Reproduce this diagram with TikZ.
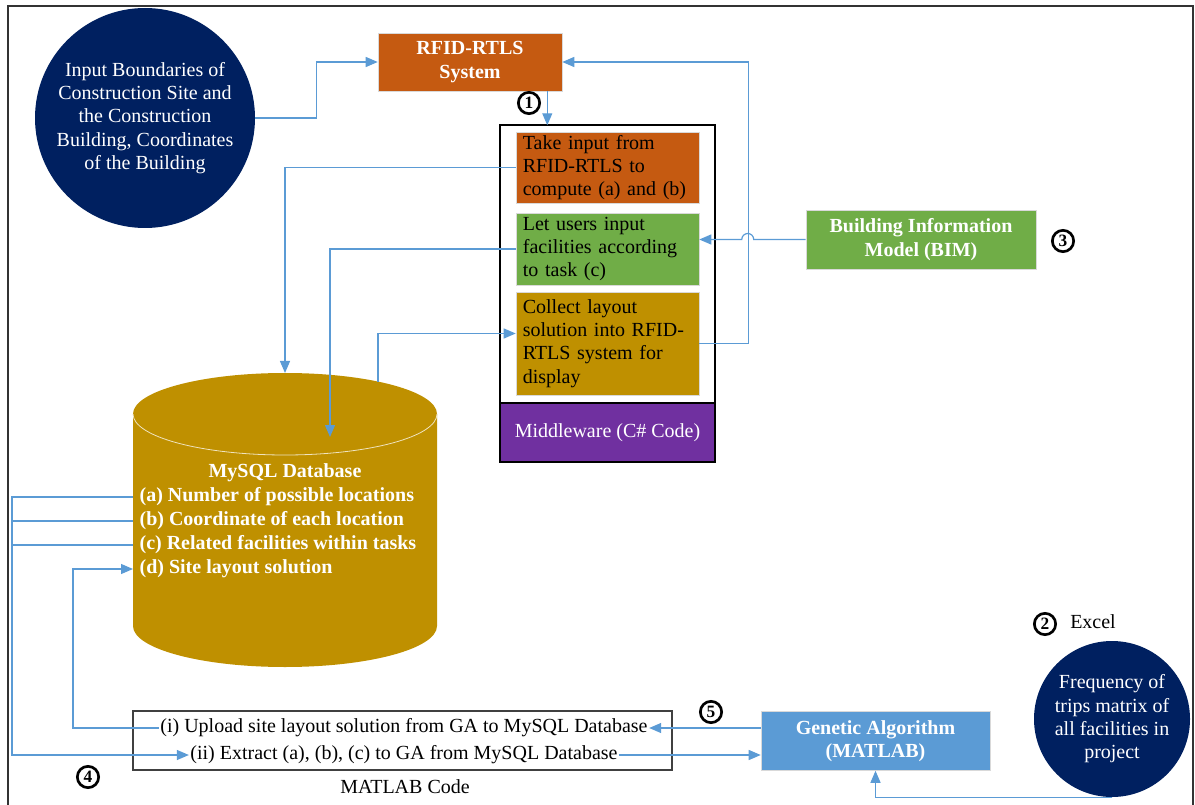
\documentclass[tikz,border=0pt]{standalone}
\usepackage{fontspec}
\setmainfont{Liberation Serif}
\usetikzlibrary{arrows.meta,calc}

\definecolor{rustBox}{HTML}{C55A11}
\definecolor{leafBox}{HTML}{70AD47}
\definecolor{goldBox}{HTML}{BF9000}
\definecolor{plumBox}{HTML}{7030A0}
\definecolor{navyDisc}{HTML}{002060}
\definecolor{skyBox}{HTML}{5B9BD5}
\definecolor{wire}{HTML}{5B9BD5}

\begin{document}
\begin{tikzpicture}[x=0.75pt,y=0.75pt,yscale=-1,xscale=1,
    every node/.style={font=\fontsize{15}{17.5}\selectfont},
    solid box/.style={rectangle, draw=white!85!black, line width=0.4pt, text=white, font=\bfseries\fontsize{15}{17.5}\selectfont, align=center, inner sep=2pt},
    task box/.style={rectangle, draw=white!85!black, line width=0.4pt, minimum width=137.25pt, text width=127pt, align=left, inner xsep=4pt, inner ysep=1pt},
    disc/.style={circle, fill=navyDisc, text=white, align=center, inner sep=0pt},
    dbtext/.style={text=white, font=\bfseries\fontsize{15}{17.5}\selectfont, inner sep=1pt},
    conn/.style={draw=wire, line width=0.9pt, -{Triangle[length=9pt,width=7.5pt]}},
    link/.style={draw=wire, line width=0.9pt},
    marker/.style={circle, draw, line width=2pt, inner sep=0pt, minimum size=16pt, font=\bfseries\fontsize{13}{13}\selectfont}]

    \useasboundingbox (0,0) rectangle (1195,805);
    \draw [line width=1.5pt, black!80] (8,805) -- (8,6) -- (1193,6) -- (1193,805);

    \node [disc, minimum size=165pt] (inBound) at (145,118) {Input Boundaries of\\Construction Site and\\the Construction\\Building, Coordinates\\of the Building};
    \node [solid box, fill=rustBox, minimum width=138pt, minimum height=43.5pt] (rfid) at (470,62) {RFID-RTLS\\System};
    \node [marker] (mkOne) at (529,103) {1};

    \node [draw, line width=1.5pt, minimum width=161.25pt, minimum height=252.75pt, inner sep=0pt] (mwFrame) at (607.5,293.5) {};
    \node [draw, line width=1.5pt, fill=plumBox, text=white, minimum width=161.25pt, minimum height=44.25pt] (mwLabel) at (607.5,432.5) {Middleware (C\# Code)};
    \node [task box, fill=rustBox, minimum height=53.25pt] (takeBox) at (607.5,167.5) {Take input from\\RFID-RTLS to\\compute (a) and (b)};
    \node [task box, fill=leafBox, minimum height=54pt] (userBox) at (607.5,249) {Let users input\\facilities according\\to task (c)};
    \node [task box, fill=goldBox, minimum height=77.25pt] (collectBox) at (607.5,343.5) {Collect layout\\solution into RFID-\\RTLS system for\\display};

    \node [solid box, fill=leafBox, minimum width=172.5pt, minimum height=44.25pt] (bim) at (921,239.5) {Building Information\\Model (BIM)};
    \node [marker] (mkThree) at (1063,241) {3};

    \fill [goldBox] (133,414) -- (133,626) arc [start angle=180, end angle=0, x radius=152, y radius=41] -- (437,414) arc [start angle=0, end angle=-180, x radius=152, y radius=41] -- cycle;
    \draw [white!75!goldBox, line width=0.6pt] (133,414) arc [start angle=180, end angle=0, x radius=152, y radius=41];
    \coordinate (dbL) at (133,414);
    \coordinate (dbTopA) at (285,373);
    \coordinate (dbTopB) at (330,437);
    \coordinate (dbTopC) at (378,381.6);
    \node [dbtext] (dbHead) at (285,473) {MySQL Database};
    \node [dbtext, anchor=west] (rowA) at (138,497) {(a) Number of possible locations};
    \node [dbtext, anchor=west] (rowB) at (138,521) {(b) Coordinate of each location};
    \node [dbtext, anchor=west] (rowC) at (138,545) {(c) Related facilities within tasks};
    \node [dbtext, anchor=west] (rowD) at (138,569) {(d) Site layout solution};

    \node [draw=black!75, line width=0.9pt, minimum width=404.25pt, minimum height=44.25pt] (matlabBox) at (402.5,740.5) {};
    \node [inner sep=1pt] (uploadTxt) at (404,728) {(i) Upload site layout solution from GA to MySQL Database};
    \node [inner sep=1pt] (extractTxt) at (404,755) {(ii) Extract (a), (b), (c) to GA from MySQL Database};
    \node (matlabCap) at (405,787) {MATLAB Code};
    \node [marker] (mkFour) at (88,777) {4};

    \node [solid box, fill=skyBox, minimum width=171.75pt, minimum height=44.25pt] (ga) at (875.5,741) {Genetic Algorithm\\(MATLAB)};
    \node [marker] (mkFive) at (711,712) {5};
    \node [disc, minimum size=117pt] (freq) at (1112,719) {Frequency of\\trips matrix of\\all facilities in\\project};
    \node [marker] (mkTwo) at (1045,624) {2};
    \node (excelTag) at (1093,622) {Excel};

    \draw [conn] (inBound.east) -- ++(61,0) |- (rfid.west);
    \draw [conn] ($(rfid.south east)+(-15,0)$) -- ++(0,34);
    \draw [conn] (takeBox.west) -| (dbTopA);
    \draw [conn] (userBox.west) -| (dbTopB);
    \draw [conn] (dbTopC) |- ($(collectBox.west)+(0,-10)$);
    \draw [conn] (bim.west) -- ++(-52,0) arc [start angle=0, end angle=-180, radius=6] -- (userBox.east |- bim.west);
    \draw [conn] (collectBox.east) -- ++(49,0) |- (rfid.east);
    \draw [link] (dbL |- rowB) -- ++(-121,0);
    \draw [link] (dbL |- rowC) -- ++(-121,0);
    \draw [conn] (dbL |- rowA) -- ++(-121,0) |- (extractTxt.west);
    \draw [conn] (uploadTxt.west) -| ($(dbL |- rowD)+(-60,0)$) -- (dbL |- rowD);
    \draw [conn] (uploadTxt.east -| ga.west) -- (uploadTxt.east);
    \draw [conn] (extractTxt.east) -- (extractTxt.east -| ga.west);
    \draw [conn] (freq.south) -| (ga.south);

\end{tikzpicture}
\end{document}
